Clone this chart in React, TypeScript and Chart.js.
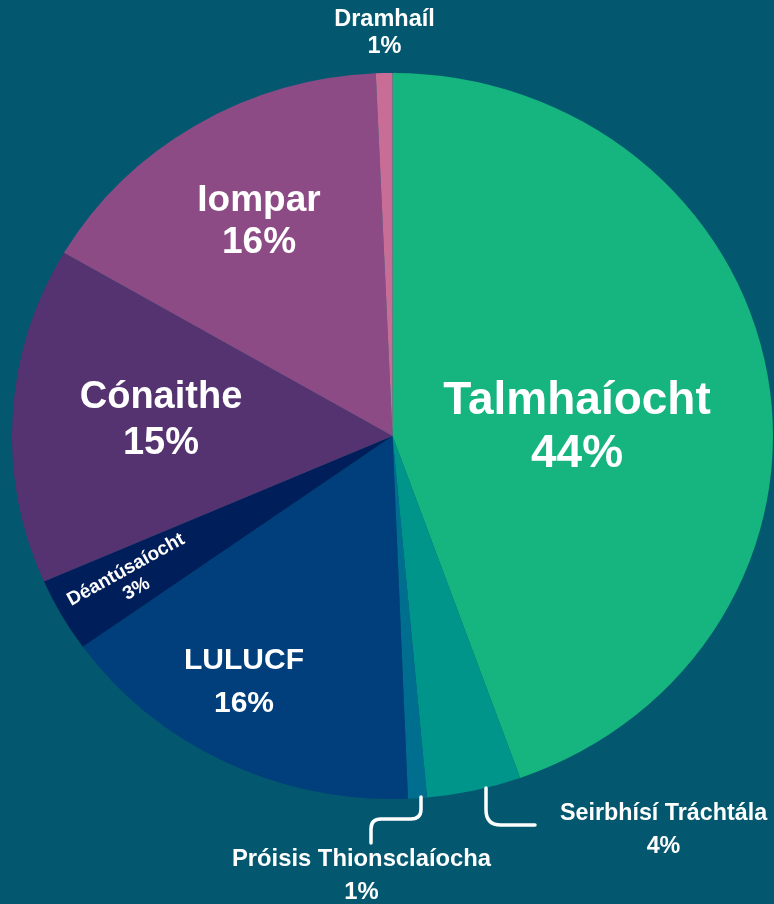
import React, { useEffect, useRef } from 'react';
import { Chart, registerables } from 'chart.js';

Chart.register(...registerables);

// ---- data ----
const categories = [
  'Talmhaíocht',
  'Seirbhísí Tráchtála',
  'Próisis Thionsclaíocha',
  'LULUCF',
  'Déantúsaíocht',
  'Cónaithe',
  'Iompar',
  'Dramhaíl',
];
const shares = [44.6, 4.0, 0.8, 15.8, 3.3, 15.0, 15.9, 0.7];
const percentLabels = ['44%', '4%', '1%', '16%', '3%', '15%', '16%', '1%'];

// ---- styles ----
const sliceColors = ['#16b47e', '#00958a', '#006e8f', '#003f7b', '#001e5a', '#553270', '#8d4b85', '#c86e96'];
const BG = '#03586f';
const REF_R = 363;
const STRETCH_X = 380.5 / 363;
const FONT = '"Liberation Sans", Arial, sans-serif';

// label layout: offsets from the pie centre (in reference px at radius 363)
const labelLayout = [
  { dx: 184.5, dy: -11.5, size: 46, gap: 53, rot: 0 },
  { dx: 271, dy: 392, size: 23.3, gap: 32.5, rot: 0 },
  { dx: -31, dy: 437.75, size: 23.8, gap: 33.5, rot: 0 },
  { dx: -148.5, dy: 243.5, size: 30, gap: 43, rot: 0 },
  { dx: -262, dy: 142, size: 19, gap: 22, rot: -29 },
  { dx: -231.5, dy: -19, size: 38, gap: 46, rot: 0 },
  { dx: -133.5, dy: -217.3, size: 37, gap: 42, rot: 0 },
  { dx: -8, dy: -404.5, size: 23.5, gap: 27, rot: 0 },
];

// leader lines (offsets from pie centre)
const leaderLines = [
  // Próisis Thionsclaíocha
  [
    ['M', 28.5, 361],
    ['L', 28.5, 373],
    ['Q', 28.5, 383, 18.5, 383],
    ['L', -11.5, 383],
    ['Q', -21.5, 383, -21.5, 393],
    ['L', -21.5, 407],
  ],
  // Seirbhísí Tráchtála
  [
    ['M', 93.5, 352],
    ['L', 93.5, 374],
    ['Q', 93.5, 389, 108.5, 389],
    ['L', 142.5, 389],
  ],
];

const piePlugin = {
  id: 'stretchAndLabels',
  beforeDatasetsDraw(chart: any) {
    const arc = chart.getDatasetMeta(0).data[0];
    if (!arc) return;
    const { x, y } = arc;
    const ctx = chart.ctx;
    ctx.save();
    ctx.translate(x, y);
    ctx.scale(STRETCH_X, 1);
    ctx.translate(-x, -y);
  },
  afterDatasetsDraw(chart: any) {
    const ctx = chart.ctx;
    ctx.restore();
    const arc = chart.getDatasetMeta(0).data[0];
    if (!arc) return;
    const cx = arc.x;
    const cy = arc.y;
    const k = arc.outerRadius / REF_R;

    // leader lines
    ctx.save();
    ctx.strokeStyle = '#ffffff';
    ctx.lineWidth = 3.5;
    ctx.lineCap = 'round';
    ctx.lineJoin = 'round';
    leaderLines.forEach((path) => {
      ctx.beginPath();
      path.forEach((cmd: any) => {
        const [t, ...p] = cmd;
        const P = p.map((v: number, i: number) => (i % 2 === 0 ? cx + v * k : cy + v * k));
        if (t === 'M') ctx.moveTo(P[0], P[1]);
        else if (t === 'L') ctx.lineTo(P[0], P[1]);
        else if (t === 'Q') ctx.quadraticCurveTo(P[0], P[1], P[2], P[3]);
      });
      ctx.stroke();
    });
    ctx.restore();

    // labels
    categories.forEach((name, i) => {
      const L = labelLayout[i];
      ctx.save();
      ctx.translate(cx + L.dx * k, cy + L.dy * k);
      ctx.rotate((L.rot * Math.PI) / 180);
      ctx.fillStyle = '#ffffff';
      ctx.textAlign = 'center';
      ctx.textBaseline = 'alphabetic';
      ctx.font = `bold ${L.size}px ${FONT}`;
      const lines = [name, percentLabels[i]];
      lines.forEach((txt, j) => {
        const yy = (j - 0.5) * L.gap + 0.358 * L.size;
        ctx.fillText(txt, 0, yy);
      });
      ctx.restore();
    });
  },
};

export default function App() {
  const ref = useRef<HTMLCanvasElement | null>(null);
  useEffect(() => {
    document.body.style.margin = '0';
    document.body.style.background = BG;
    const canvas = ref.current!;
    const chart = new Chart(canvas, {
      type: 'pie',
      data: {
        labels: categories,
        datasets: [
          {
            data: shares,
            backgroundColor: sliceColors,
            borderWidth: 0,
            hoverOffset: 0,
            offset: 0,
            clip: false as any,
          } as any,
        ],
      },
      options: {
        responsive: false,
        animation: false,
        devicePixelRatio: 1,
        events: [],
        layout: { padding: { top: 73, bottom: 105, left: 12, right: 1 } },
        plugins: { legend: { display: false }, tooltip: { enabled: false } },
      },
      plugins: [piePlugin],
    });
    return () => chart.destroy();
  }, []);
  return (
    <div style={{ position: 'fixed', left: 0, top: 0, width: 774, height: 904, background: BG }}>
      <canvas ref={ref} width={774} height={904} style={{ width: 774, height: 904 }} />
    </div>
  );
}
